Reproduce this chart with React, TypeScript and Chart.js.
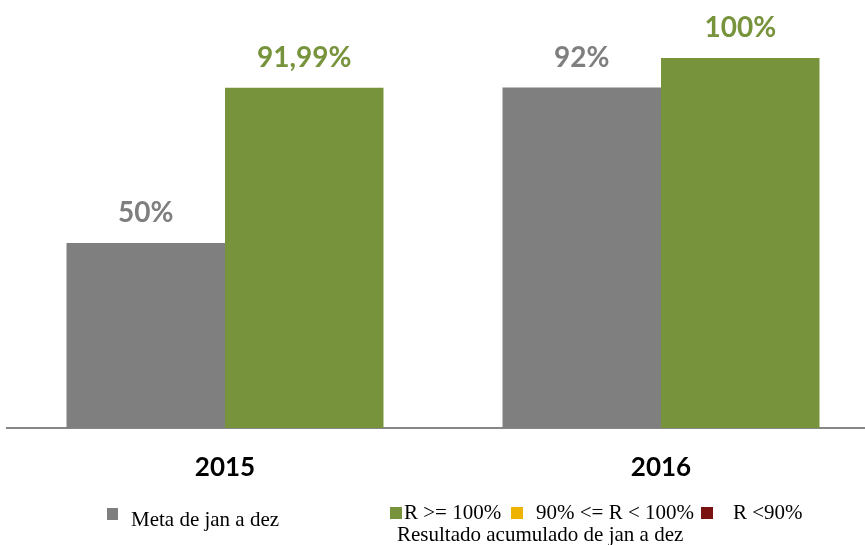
import React, { useEffect, useRef } from 'react';
import { Chart, registerables } from 'chart.js';

Chart.register(...registerables);

// ---- data ----
const categories = ['2015', '2016'];
const metaValues = [50, 92];
const resultadoValues = [91.99, 100];
const metaLabel = 'Meta de jan a dez';
const resultadoLabel = 'Resultado acumulado de jan a dez';
const rangeLabels = ['R >= 100%', '90% <= R < 100%', 'R <90%'];

// ---- styles ----
const GRAY = '#7F7F7F';
const GREEN = '#77933C';
const YELLOW = '#EEB300';
const DARKRED = '#7A1212';
const RANGE_COLORS = [GREEN, YELLOW, DARKRED];

const fmt = (v: number) =>
  Number.isInteger(v) ? `${v}%` : `${v.toFixed(2).replace('.', ',')}%`;

export default function App() {
  const ref = useRef<HTMLCanvasElement>(null);

  useEffect(() => {
    const canvas = ref.current!;
    const valueLabels = {
      id: 'valueLabels',
      afterDatasetsDraw(chart: any) {
        const ctx = chart.ctx;
        ctx.save();
        ctx.font = 'bold 28px Lato';
        ctx.textAlign = 'center';
        ctx.textBaseline = 'alphabetic';
        chart.data.datasets.forEach((ds: any, i: number) => {
          const meta = chart.getDatasetMeta(i);
          meta.data.forEach((el: any, j: number) => {
            ctx.fillStyle = ds.backgroundColor;
            ctx.fillText(fmt(ds.data[j]), el.x, el.y - 21);
          });
        });
        ctx.restore();
      },
    };

    const chart = new Chart(canvas, {
      type: 'bar',
      data: {
        labels: categories,
        datasets: [
          { label: metaLabel, data: metaValues, backgroundColor: GRAY, categoryPercentage: 0.727, barPercentage: 1 },
          { label: resultadoLabel, data: resultadoValues, backgroundColor: GREEN, categoryPercentage: 0.727, barPercentage: 1 },
        ],
      },
      options: {
        animation: false,
        responsive: false,
        layout: { padding: { left: 7, right: 1, top: 21, bottom: 0 } },
        plugins: { legend: { display: false }, tooltip: { enabled: false } },
        scales: {
          x: {
            grid: { display: false, drawTicks: false },
            border: { display: true, color: '#868686', width: 2 },
            ticks: {
              font: { family: 'Lato', weight: 'bold', size: 26 },
              color: '#000',
              padding: 24,
            },
            afterFit: (s: any) => {
              s.height = 117;
            },
          },
          y: { display: false, min: 0, max: 110 },
        },
      },
      plugins: [valueLabels],
    } as any);
    return () => chart.destroy();
  }, []);

  const legendText: React.CSSProperties = {
    position: 'absolute',
    fontFamily: '"Liberation Serif", "Times New Roman", serif',
    fontSize: 21,
    lineHeight: '21px',
    color: '#000',
    whiteSpace: 'pre',
  };
  const sq = (left: number, top: number, color: string, w = 12, h = 12): React.CSSProperties => ({
    position: 'absolute',
    left,
    top,
    width: w,
    height: h,
    background: color,
  });

  const rangeSquareX = [390, 511, 701];
  const rangeTextX = [404, 536, 733];

  return (
    <div
      style={{
        position: 'absolute',
        left: 0,
        top: 0,
        width: 865,
        height: 545,
        overflow: 'hidden',
        background: '#fff',
      }}
    >
      <canvas ref={ref} width={880} height={545} style={{ display: 'block' }} />
      <div style={sq(107, 508, GRAY, 11, 12)} />
      <div style={{ ...legendText, left: 131, top: 509 }}>{metaLabel}</div>
      {rangeLabels.map((t, i) => (
        <React.Fragment key={t}>
          <div style={sq(rangeSquareX[i], 507, RANGE_COLORS[i])} />
          <div style={{ ...legendText, left: rangeTextX[i], top: 502 }}>{t}</div>
        </React.Fragment>
      ))}
      <div style={{ ...legendText, left: 397, top: 524 }}>{resultadoLabel}</div>
    </div>
  );
}
